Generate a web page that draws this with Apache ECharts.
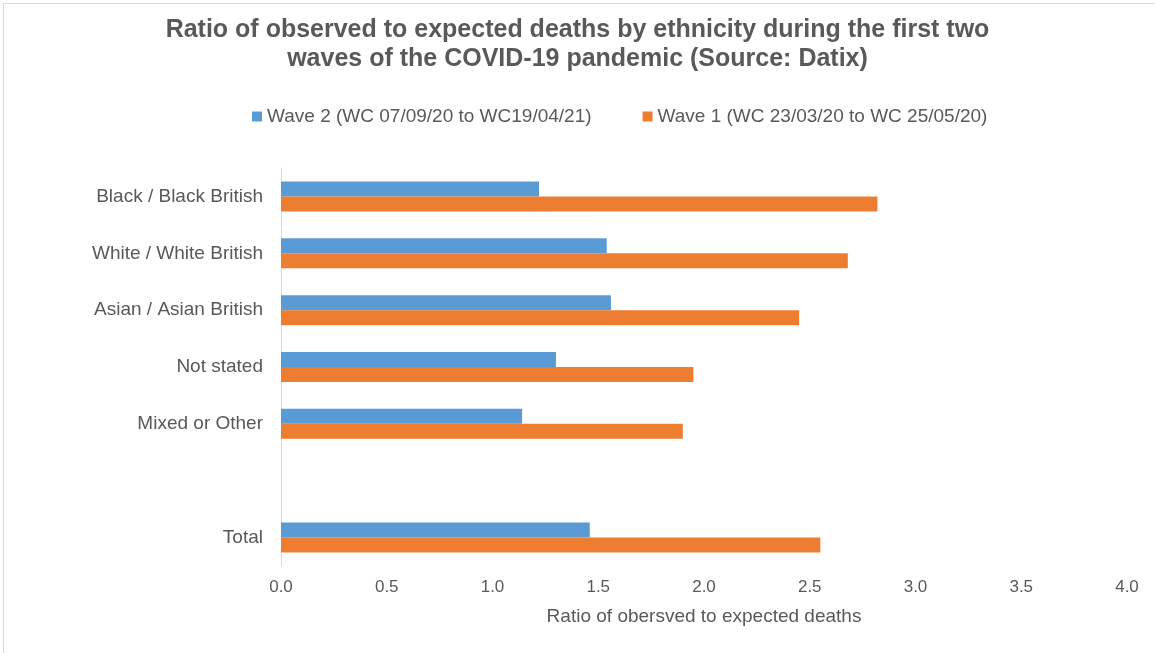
<!DOCTYPE html>
<html>
<head>
	<meta charset="utf-8">
	<script src="https://cdn.jsdelivr.net/npm/echarts@6/dist/echarts.min.js"></script>
	<style>
		html, body { margin: 0; padding: 0; background: #fff; }
		#frame {
			position: absolute; left: 3px; top: 3px;
			width: 1160px; height: 660px;
			border-top: 1px solid #d9d9d9; border-left: 1px solid #d9d9d9;
		}
		#container { position: absolute; left: 0; top: 0; width: 1155px; height: 653px; }
	</style>
</head>
<body>
	<div id="frame"></div>
	<div id="container"></div>
	<script>
		// categories top to bottom (blank slot before Total)
		var categories = ['Black / Black British', 'White / White British', 'Asian / Asian British', 'Not stated', 'Mixed or Other', '', 'Total'];
		var wave2 = [1.22, 1.54, 1.56, 1.30, 1.14, null, 1.46];
		var wave1 = [2.82, 2.68, 2.45, 1.95, 1.90, null, 2.55];
		var seriesNames = ['Wave 2 (WC 07/09/20 to WC19/04/21)', 'Wave 1 (WC 23/03/20 to WC 25/05/20)'];

		var textColor = '#595959';
		var myChart = echarts.init(document.getElementById('container'));

		var option = {
			animation: false,
			color: ['#5B9BD5', '#ED7D31'],
			title: {
				text: 'Ratio of observed to expected deaths by ethnicity during the first two\nwaves of the COVID-19 pandemic (Source: Datix)',
				left: 'center',
				top: 11,
				textStyle: {
					fontFamily: 'Liberation Sans',
					fontSize: 25,
					fontWeight: 'bold',
					color: textColor,
					lineHeight: 29
				}
			},
			legend: {
				top: 102,
				left: 247,
				itemWidth: 10,
				itemHeight: 10,
				itemGap: 51,
				icon: 'rect',
				textStyle: { fontFamily: 'Liberation Sans', fontSize: 19, color: textColor },
				data: seriesNames
			},
			grid: {
				left: 281,
				right: 28,
				top: 168,
				bottom: 87,
				containLabel: false
			},
			xAxis: {
				type: 'value',
				min: 0,
				max: 4,
				interval: 0.5,
				name: 'Ratio of obersved to expected deaths',
				nameLocation: 'middle',
				nameGap: 41,
				nameTextStyle: { fontFamily: 'Liberation Sans', fontSize: 19, color: textColor },
				axisLine: { show: false },
				axisTick: { show: false },
				splitLine: { show: false },
				axisLabel: {
					margin: 13,
					fontFamily: 'Liberation Sans',
					fontSize: 17,
					color: textColor,
					formatter: function (v) { return v.toFixed(1); }
				}
			},
			yAxis: {
				type: 'category',
				inverse: true,
				data: categories,
				axisLine: { show: true, lineStyle: { color: '#d9d9d9' } },
				axisTick: { show: false },
				axisLabel: {
					margin: 18,
					fontFamily: 'Liberation Sans',
					fontSize: 19,
					color: textColor
				}
			},
			series: [{
				name: seriesNames[0],
				type: 'bar',
				barWidth: 15,
				barGap: '0%',
				data: wave2
			}, {
				name: seriesNames[1],
				type: 'bar',
				barWidth: 15,
				barGap: '0%',
				data: wave1
			}]
		};

		myChart.setOption(option);
	</script>
</body>
</html>
